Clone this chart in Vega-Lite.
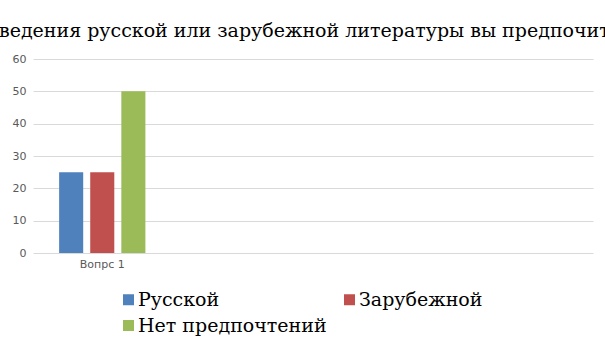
{
  "$schema": "https://vega.github.io/schema/vega-lite/v6.json",
  "autosize": {"type": "none"},
  "width": 560,
  "height": 194,
  "padding": {"left": 33, "top": 59, "right": 12, "bottom": 87},
  "background": "white",
  "title": {
    "text": "Произведения русской или зарубежной литературы вы предпочитаете?",
    "font": "DejaVu Serif",
    "fontSize": 19,
    "fontWeight": "normal",
    "color": "#000000",
    "anchor": "middle",
    "frame": "group",
    "baseline": "alphabetic",
    "offset": -3,
    "dx": -13
  },
  "data": {
    "values": [
      {"question": "Вопрс 1", "answer": "Русской", "value": 25},
      {"question": "Вопрс 1", "answer": "Зарубежной", "value": 25},
      {"question": "Вопрс 1", "answer": "Нет предпочтений", "value": 50}
    ]
  },
  "mark": {"type": "bar"},
  "encoding": {
    "x": {
      "field": "question",
      "type": "nominal",
      "title": null,
      "scale": {
        "domain": ["Вопрс 1", "q2", "q3", "q4"],
        "paddingInner": 0.386,
        "paddingOuter": 0.186
      },
      "axis": {
        "labelExpr": "datum.value === 'Вопрс 1' ? datum.value : ''",
        "labelAngle": 0,
        "domain": false,
        "ticks": false,
        "grid": false,
        "labelFont": "DejaVu Sans",
        "labelFontSize": 11,
        "labelColor": "#595959",
        "labelPadding": 5
      }
    },
    "xOffset": {
      "field": "answer",
      "type": "nominal",
      "sort": ["Русской", "Зарубежной", "Нет предпочтений"],
      "scale": {"paddingInner": 0.226, "paddingOuter": 0}
    },
    "y": {
      "field": "value",
      "type": "quantitative",
      "title": null,
      "scale": {"domain": [0, 60], "nice": false},
      "axis": {
        "values": [0, 10, 20, 30, 40, 50, 60],
        "domain": false,
        "ticks": false,
        "labelFont": "DejaVu Sans",
        "labelFontSize": 11,
        "labelColor": "#595959",
        "labelPadding": 7,
        "gridColor": "#d9d9d9",
        "gridWidth": 1
      }
    },
    "color": {
      "field": "answer",
      "type": "nominal",
      "sort": ["Русской", "Зарубежной", "Нет предпочтений"],
      "scale": {
        "domain": ["Русской", "Зарубежной", "Нет предпочтений"],
        "range": ["#4f81bd", "#c0504d", "#9bbb59"]
      },
      "legend": {
        "title": null,
        "orient": "none",
        "legendX": 86,
        "legendY": 231,
        "columns": 2,
        "direction": "horizontal",
        "columnPadding": 13,
        "rowPadding": 6,
        "symbolType": "square",
        "symbolSize": 121,
        "symbolStrokeWidth": 0,
        "labelFont": "DejaVu Serif",
        "labelFontSize": 19,
        "labelColor": "#000000",
        "labelOffset": 0,
        "labelLimit": 400
      }
    }
  },
  "config": {
    "view": {"stroke": null}
  }
}
